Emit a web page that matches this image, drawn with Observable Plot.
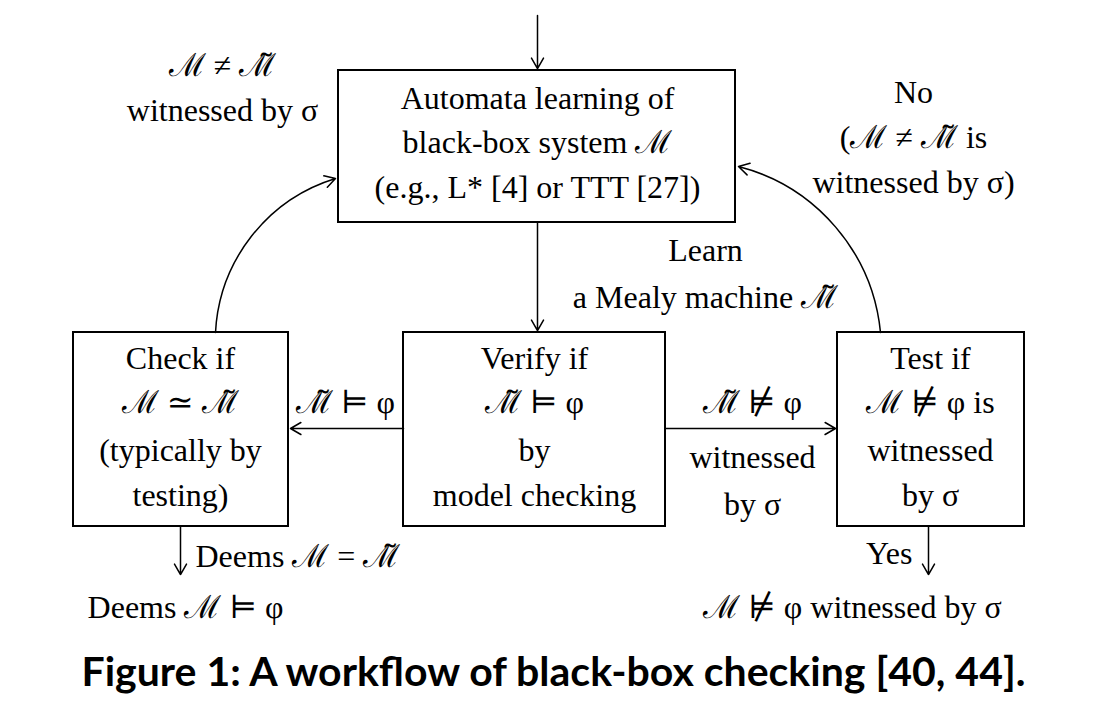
<!DOCTYPE html>
<html>
<head>
<meta charset="utf-8">
<script src="https://cdn.jsdelivr.net/npm/d3@7"></script>
<script src="https://cdn.jsdelivr.net/npm/@observablehq/plot@0.6"></script>
<style>
  body { margin: 0; background: #fff; }
</style>
</head>
<body>
<div id="chart"></div>
<script>
const M = "ℳ";
const Mt = "ℳ\u0303";

// boxes: [x1, y1, x2, y2]
const boxes = [
  { x1: 338, y1: 70, x2: 735, y2: 222 },
  { x1: 73, y1: 332, x2: 288, y2: 526 },
  { x1: 403, y1: 332, x2: 665, y2: 526 },
  { x1: 837, y1: 332, x2: 1024, y2: 526 }
];

const centeredLabels = [
  { x: 537, y: 98, text: "Automata learning of" },
  { x: 537, y: 142, text: `black-box system ${M}` },
  { x: 537, y: 187, text: "(e.g., L* [4] or TTT [27])" },
  { x: 180, y: 358, text: "Check if" },
  { x: 180, y: 402, text: `${M} ≃ ${Mt}` },
  { x: 180, y: 450, text: "(typically by" },
  { x: 180, y: 495, text: "testing)" },
  { x: 534, y: 358, text: "Verify if" },
  { x: 534, y: 402, text: `${Mt} ⊨ φ` },
  { x: 534, y: 450, text: "by" },
  { x: 534, y: 495, text: "model checking" },
  { x: 930, y: 358, text: "Test if" },
  { x: 930, y: 402, text: `${M} ⊭ φ is` },
  { x: 930, y: 450, text: "witnessed" },
  { x: 930, y: 495, text: "by σ" },
  { x: 222, y: 65, text: `${M} ≠ ${Mt}` },
  { x: 222, y: 110, text: "witnessed by σ" },
  { x: 913, y: 92, text: "No" },
  { x: 913, y: 137, text: `(${M} ≠ ${Mt} is` },
  { x: 913, y: 182, text: "witnessed by σ)" },
  { x: 705, y: 250, text: "Learn" },
  { x: 705, y: 297, text: `a Mealy machine ${Mt}` },
  { x: 345, y: 402, text: `${Mt} ⊨ φ` },
  { x: 752, y: 402, text: `${Mt} ⊭ φ` },
  { x: 752, y: 457, text: "witnessed" },
  { x: 752, y: 504, text: "by σ" },
  { x: 185, y: 607, text: `Deems ${M} ⊨ φ` },
  { x: 852, y: 607, text: `${M} ⊭ φ witnessed by σ` }
];

const leftLabels = [
  { x: 195, y: 556, text: `Deems ${M} = ${Mt}` }
];
const rightLabels = [
  { x: 912, y: 553, text: "Yes" }
];

const straightArrows = [
  { x1: 537, y1: 15, x2: 537, y2: 68 },
  { x1: 537, y1: 222, x2: 537, y2: 330 },
  { x1: 403, y1: 428, x2: 290, y2: 428 },
  { x1: 665, y1: 428, x2: 835, y2: 428 },
  { x1: 180, y1: 526, x2: 180, y2: 574 },
  { x1: 928, y1: 526, x2: 928, y2: 574 }
];

const leftCurve = [{ x1: 215, y1: 332, x2: 335, y2: 178 }];
const rightCurve = [{ x1: 880, y1: 332, x2: 738, y2: 166 }];

const caption = [{ x: 553, y: 672, text: "Figure 1: A workflow of black-box checking [40, 44]." }];

const font = "'Liberation Serif', 'DejaVu Serif', serif";

const plot = Plot.plot({
  width: 1106,
  height: 712,
  margin: 0,
  x: { type: "linear", domain: [0, 1106], range: [0, 1106], axis: null },
  y: { type: "linear", domain: [0, 712], range: [0, 712], axis: null },
  style: { background: "#fff", fontFamily: font },
  marks: [
    Plot.rect(boxes, { x1: "x1", y1: "y1", x2: "x2", y2: "y2", fill: "none", stroke: "black", strokeWidth: 2 }),
    Plot.arrow(straightArrows, { x1: "x1", y1: "y1", x2: "x2", y2: "y2", stroke: "black", strokeWidth: 1.5, headLength: 12 }),
    Plot.arrow(leftCurve, { x1: "x1", y1: "y1", x2: "x2", y2: "y2", bend: 35, stroke: "black", strokeWidth: 1.5, headLength: 12 }),
    Plot.arrow(rightCurve, { x1: "x1", y1: "y1", x2: "x2", y2: "y2", bend: -35, stroke: "black", strokeWidth: 1.5, headLength: 12 }),
    Plot.text(centeredLabels, { x: "x", y: "y", text: "text", fontSize: 32, fill: "black", textAnchor: "middle" }),
    Plot.text(leftLabels, { x: "x", y: "y", text: "text", fontSize: 32, fill: "black", textAnchor: "start" }),
    Plot.text(rightLabels, { x: "x", y: "y", text: "text", fontSize: 32, fill: "black", textAnchor: "end" }),
    Plot.text(caption, { x: "x", y: "y", text: "text", fontSize: 41, fontWeight: "bold", fill: "black", fontFamily: "'Lato', 'DejaVu Sans', sans-serif" })
  ]
});
document.querySelector("#chart").append(plot);
</script>
</body>
</html>
